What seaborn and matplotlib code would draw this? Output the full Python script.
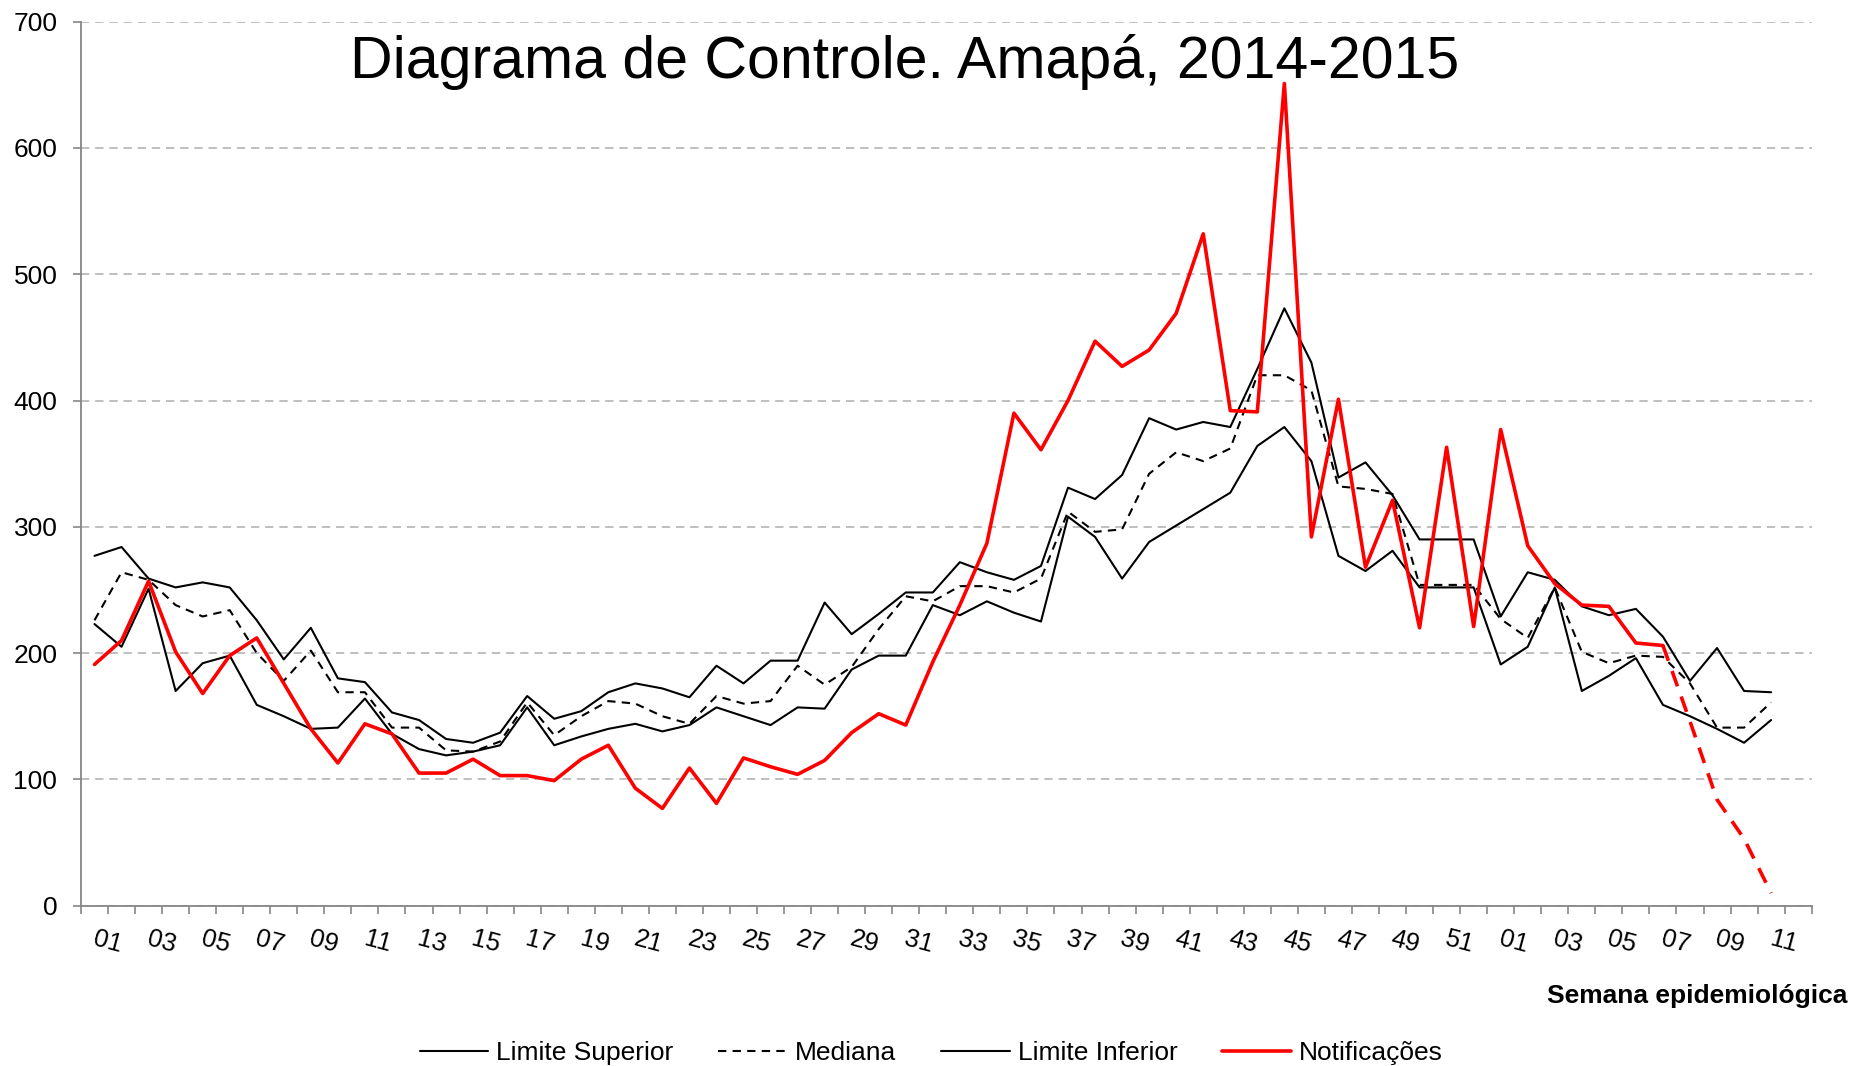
import seaborn as sns
import matplotlib.pyplot as plt
import pandas as pd
import numpy as np
from matplotlib.transforms import ScaledTranslation

# semanas epidemiológicas: 2014 (01-52) e 2015 (01-11)
semanas = ["01", "02", "03", "04", "05", "06", "07", "08", "09", "10",
           "11", "12", "13", "14", "15", "16", "17", "18", "19", "20",
           "21", "22", "23", "24", "25", "26", "27", "28", "29", "30",
           "31", "32", "33", "34", "35", "36", "37", "38", "39", "40",
           "41", "42", "43", "44", "45", "46", "47", "48", "49", "50",
           "51", "52",
           "01", "02", "03", "04", "05", "06", "07", "08", "09", "10", "11"]

lim_sup = [277, 284, 259, 252, 256, 252, 226, 195, 220, 180,
           177, 153, 147, 132, 129, 137, 166, 148, 154, 169,
           176, 172, 165, 190, 176, 194, 194, 240, 215, 231,
           248, 248, 272, 264, 258, 269, 331, 322, 341, 386,
           377, 383, 379, 425, 473, 430, 339, 351, 325, 290,
           290, 290, 229, 264, 258, 237, 230, 235, 213, 178,
           204, 170, 169]

mediana = [226, 264, 258, 238, 229, 234, 200, 178, 202, 169,
           169, 141, 141, 123, 122, 130, 161, 135, 150, 162,
           160, 150, 144, 166, 160, 162, 190, 175, 189, 219,
           245, 241, 253, 253, 248, 259, 312, 296, 298, 342,
           359, 352, 362, 420, 420, 408, 332, 330, 326, 254,
           254, 254, 227, 212, 252, 201, 192, 198, 197, 176,
           141, 141, 161]

lim_inf = [223, 205, 251, 170, 192, 198, 159, 150, 140, 141,
           164, 136, 124, 119, 122, 127, 157, 127, 134, 140,
           144, 138, 143, 157, 150, 143, 157, 156, 187, 198,
           198, 238, 230, 241, 232, 225, 308, 292, 259, 288,
           301, 314, 327, 364, 379, 352, 277, 265, 281, 252,
           252, 252, 191, 205, 252, 170, 182, 196, 159, 150,
           140, 129, 147]

# notificações (semanas 2014/01 a 2015/07)
notificacoes = [191, 210, 257, 201, 168, 198, 212, 176, 140, 113,
                144, 136, 105, 105, 116, 103, 103, 99, 116, 127,
                93, 77, 109, 81, 117, 110, 104, 115, 137, 152,
                143, 193, 238, 287, 390, 361, 400, 447, 427, 440,
                469, 532, 392, 391, 651, 292, 401, 268, 321, 220,
                363, 221, 377, 285, 255, 238, 237, 208, 206]

# semanas recentes, dados ainda incompletos (2015/07 a 2015/11)
notif_recentes = [206, 146, 84, 53, 10]

n = len(semanas)
df = pd.DataFrame({"pos": np.arange(n), "sup": lim_sup, "med": mediana, "inf": lim_inf})
df_not = pd.DataFrame({"pos": np.arange(len(notificacoes)), "val": notificacoes})
df_rec = pd.DataFrame({"pos": np.arange(len(notificacoes) - 1, n), "val": notif_recentes})

sns.set_style("white")
plt.rcParams['font.family'] = ['Liberation Sans', 'DejaVu Sans']
plt.rcParams['text.color'] = 'black'
plt.rcParams['xtick.color'] = 'black'
plt.rcParams['ytick.color'] = 'black'

fig = plt.figure(figsize=(18.53, 10.66), dpi=100)
ax = fig.add_axes([0.0437, 0.1504, 0.934, 0.8293])

sns.lineplot(data=df, x="pos", y="sup", ax=ax, color="black", lw=1.5, label="Limite Superior")
sns.lineplot(data=df, x="pos", y="med", ax=ax, color="black", lw=1.5,
             linestyle=(0, (4, 3)), label="Mediana")
sns.lineplot(data=df, x="pos", y="inf", ax=ax, color="black", lw=1.5, label="Limite Inferior")
sns.lineplot(data=df_not, x="pos", y="val", ax=ax, color="#ff0000", lw=2.6, label="Notificações")
sns.lineplot(data=df_rec, x="pos", y="val", ax=ax, color="#ff0000", lw=2.6,
             linestyle=(0, (4.5, 3)))

handles, labels = ax.get_legend_handles_labels()
ax.get_legend().remove()

ax.set_xlim(-0.5, 63.5)
ax.set_ylim(0, 700)
ax.set_yticks(range(0, 701, 100))
ax.tick_params(axis='y', labelsize=19, left=True, length=6, width=1.2,
               color='#868686', labelcolor='black', pad=11)

# marcas nas divisas entre semanas, rótulos a cada duas semanas
ax.set_xticks(np.arange(-0.5, 64, 1))
ax.set_xticklabels([])
ax.set_xticks(np.arange(0, n, 2), minor=True)
ax.set_xticklabels(semanas[::2], minor=True, rotation=-15, fontsize=18.5)
ax.tick_params(axis='x', which='major', bottom=True, length=6, width=1.2, color='#868686')
ax.tick_params(axis='x', which='minor', bottom=True, length=0, pad=15, labelcolor='black')
offset = ScaledTranslation(0.13, 0, fig.dpi_scale_trans)
for lab in ax.get_xticklabels(minor=True):
    lab.set_transform(lab.get_transform() + offset)

ax.set_xlabel("")
ax.set_ylabel("")
ax.yaxis.grid(True, linestyle=(0, (5, 3.5)), color='#b4b4b4', lw=1.2)
ax.xaxis.grid(False)
ax.set_axisbelow(True)
for s in ["top", "right"]:
    ax.spines[s].set_visible(False)
for s in ["left", "bottom"]:
    ax.spines[s].set_color('#868686')
    ax.spines[s].set_linewidth(1.3)

fig.text(0.488, 0.9268, "Diagrama de Controle. Amapá, 2014-2015", fontsize=42.5,
         ha='center', va='baseline', color='black')
fig.text(0.9968, 0.0657, "Semana epidemiológica", fontsize=19, fontweight='bold',
         ha='right', va='center', color='black')

fig.legend(handles, labels, loc='center', bbox_to_anchor=(0.5025, 0.012), ncol=4,
           frameon=False, fontsize=19, handlelength=2.6, handletextpad=0.3,
           columnspacing=1.7, labelcolor='black')

fig.savefig("out.png", dpi=100)
